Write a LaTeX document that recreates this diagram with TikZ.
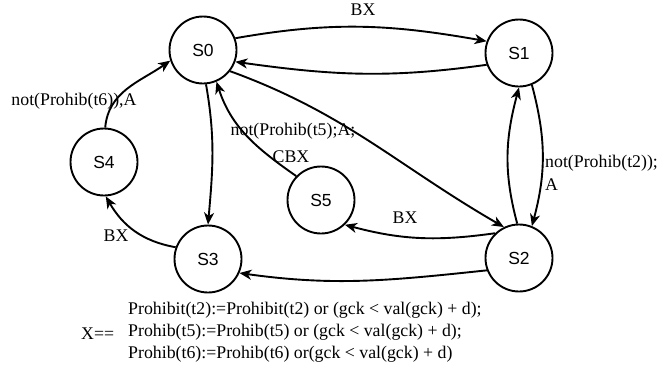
\documentclass[tikz,border=0pt]{standalone}
\usepackage{fontspec}
\setmainfont{Liberation Serif}
\newfontfamily\nodefont{Liberation Sans}
\usetikzlibrary{arrows.meta}
\begin{document}
\begin{tikzpicture}[x=1pt,y=-1pt,
  state/.style={circle,draw,line width=1.9pt,minimum size=67pt,inner sep=0pt,font=\nodefont\fontsize{17.5}{20}\selectfont},
  edge/.style={line width=1.9pt,-{Stealth[length=12pt,width=10pt,inset=3.5pt]}},
  lbl/.style={font=\fontsize{17.8}{20}\selectfont,inner sep=0pt}]
\useasboundingbox (0,0) rectangle (658,376);
\node[state] (S0) at (203,50) {S0};
\node[state] (S1) at (519,53) {S1};
\node[state] (S2) at (519,258) {S2};
\node[state] (S3) at (208,259) {S3};
\node[state] (S4) at (104,162) {S4};
\node[state] (S5) at (321,200) {S5};
% edges
\draw[edge] (S0.20) to[out=10,in=170] (S1.160);
\draw[edge] (S1.200) to[out=188,in=-8] (S0.-20);
\draw[edge] (S0.-38) to[out=-20,in=150] (S2.116);
\draw[edge] (S5.136) to[out=145,in=-72] (S0.-67);
\draw[edge] (S0.-85) to[out=-80,in=85] (S3.90);
\draw[edge] (S1.-68) to[out=-75,in=75] (S2.68);
\draw[edge] (S2.93) to[out=105,in=-105] (S1.-90);
\draw[edge] (S2.134) to[out=188,in=-15] (S5.-46);
\draw[edge] (S2.201) to[out=186,in=-8] (S3.-24);
\draw[edge] (S3.160) to[out=170,in=-60] (S4.-87);
\draw[edge] (S4.88) to[out=85,in=215] (S0.198);
% labels
\node[lbl] (lBX1) at (363,10) {BX};
\node[lbl] (lt5) at (293,131) {not(Prohib(t5);A;};
\node[lbl] (lCBX) at (291,157) {CBX};
\node[lbl,anchor=west] (lt2) at (545,163) {not(Prohib(t2));};
\node[lbl,anchor=west] (lA) at (545,185) {A};
\node[lbl] (lBX2) at (405,218) {BX};
\node[lbl] (lBX3) at (116,236) {BX};
\node[lbl] (lt6) at (74,101) {not(Prohib(t6)),A};
\node[lbl,anchor=west] (f1) at (128,310) {Prohibit(t2):=Prohibit(t2) or (gck < val(gck) + d);};
\node[lbl,anchor=west] (f2) at (128,332) {Prohib(t5):=Prohib(t5) or (gck < val(gck) + d);};
\node[lbl,anchor=west] (f3) at (128,354) {Prohib(t6):=Prohib(t6) or(gck < val(gck) + d)};
\node[lbl,anchor=west] (fx) at (81,334) {X==};
\end{tikzpicture}
\end{document}
